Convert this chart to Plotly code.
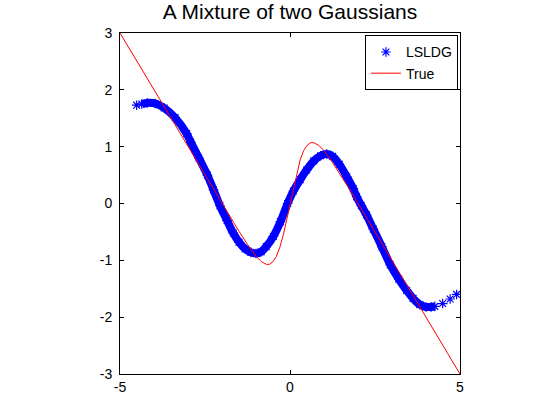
import plotly.graph_objects as go

# LSLDG estimate
lsldg_x = [-4.51, -4.36, -4.20, -3.97, -3.70, -3.38, -3.04, -2.92, -2.68, -2.43, -2.25, -2.06,
           -1.85, -1.67, -1.50, -1.32, -1.15, -1.00, -0.85, -0.70, -0.49, -0.28, -0.07,
           0.10, 0.30, 0.49, 0.70, 0.90, 1.08, 1.25, 1.45, 1.67, 1.86, 1.96, 2.10, 2.25,
           2.45, 2.70, 2.95, 3.20, 3.43, 3.62, 3.82, 4.00, 4.15, 4.26, 4.49, 4.71, 4.90]
lsldg_y = [1.73, 1.75, 1.77, 1.76, 1.68, 1.51, 1.23, 1.08, 0.80, 0.50, 0.24, -0.04,
           -0.30, -0.52, -0.68, -0.80, -0.86, -0.88, -0.85, -0.76, -0.58, -0.32, 0.00,
           0.22, 0.42, 0.59, 0.75, 0.84, 0.87, 0.83, 0.69, 0.47, 0.26, 0.12, -0.04, -0.20,
           -0.45, -0.76, -1.08, -1.33, -1.53, -1.67, -1.78, -1.82, -1.82, -1.81, -1.76, -1.68, -1.60]

# True gradient curve
true_x = [-5, -4, -3, -2.5, -2.25, -2, -1.75, -1.5, -1.25, -1.0, -0.85, -0.7, -0.6, -0.5,
          -0.4, -0.3, -0.2, -0.1, 0, 0.1, 0.2, 0.3, 0.4, 0.5, 0.6, 0.7, 0.85, 1.0, 1.25,
          1.5, 1.75, 2.0, 2.25, 2.5, 3, 4, 5]
true_y = [3.00, 2.00, 1.00, 0.50, 0.25, 0.00, -0.25, -0.49, -0.72, -0.93, -1.02, -1.07, -1.07,
          -1.02, -0.93, -0.77, -0.56, -0.29, 0.00, 0.29, 0.56, 0.77, 0.93, 1.02, 1.07, 1.07,
          1.02, 0.93, 0.72, 0.49, 0.25, 0.00, -0.25, -0.50, -1.00, -2.00, -3.00]

x_ticks = [-5, 0, 5]
y_ticks = [-3, -2, -1, 0, 1, 2, 3]

BLUE = "#0000FF"
RED = "#FF0000"
FONT = "Liberation Sans, Arial, Helvetica, sans-serif"

# dense part of the estimate drawn as a band
band_x = lsldg_x[1:-3]
band_y = lsldg_y[1:-3]

fig = go.Figure()
fig.add_trace(go.Scatter(x=band_x, y=band_y, mode="lines", showlegend=False,
                         line=dict(color=BLUE, width=8, shape="spline"), hoverinfo="skip"))
fig.add_trace(go.Scatter(x=lsldg_x, y=lsldg_y, mode="markers", name="LSLDG",
                         marker=dict(symbol="asterisk-open", size=8, color=BLUE,
                                     line=dict(color=BLUE, width=1.2))))
fig.add_trace(go.Scatter(x=true_x, y=true_y, mode="lines", name="True",
                         line=dict(color=RED, width=1)))

axis_common = dict(showline=True, linecolor="black", linewidth=1, mirror="ticks",
                   ticks="inside", ticklen=4, tickcolor="black", showgrid=False,
                   zeroline=False, tickfont=dict(family=FONT, size=14, color="black"))

fig.update_xaxes(range=[-5, 5], tickvals=x_ticks, ticktext=[str(v) for v in x_ticks],
                 **axis_common)
fig.update_yaxes(range=[-3, 3], tickvals=y_ticks, ticktext=[str(v) for v in y_ticks],
                 ticklabelstandoff=4, **axis_common)

fig.update_layout(
    width=560, height=420,
    margin=dict(l=120, r=100, t=33, b=46),
    paper_bgcolor="white", plot_bgcolor="white",
    font=dict(family=FONT, size=14, color="black"),
    title=dict(text="A Mixture of two Gaussians", x=0.5179, xanchor="center",
               y=0.9726, yanchor="middle", yref="container",
               font=dict(family=FONT, size=21, color="black")),
    legend=dict(x=0.994, y=0.993, xanchor="right", yanchor="top",
                bordercolor="black", borderwidth=1, bgcolor="white",
                font=dict(family=FONT, size=14, color="black"),
                tracegroupgap=0),
    showlegend=True,
)

fig.write_html("out.html", config={"displayModeBar": False},
               post_script="document.body.style.margin='0';")
